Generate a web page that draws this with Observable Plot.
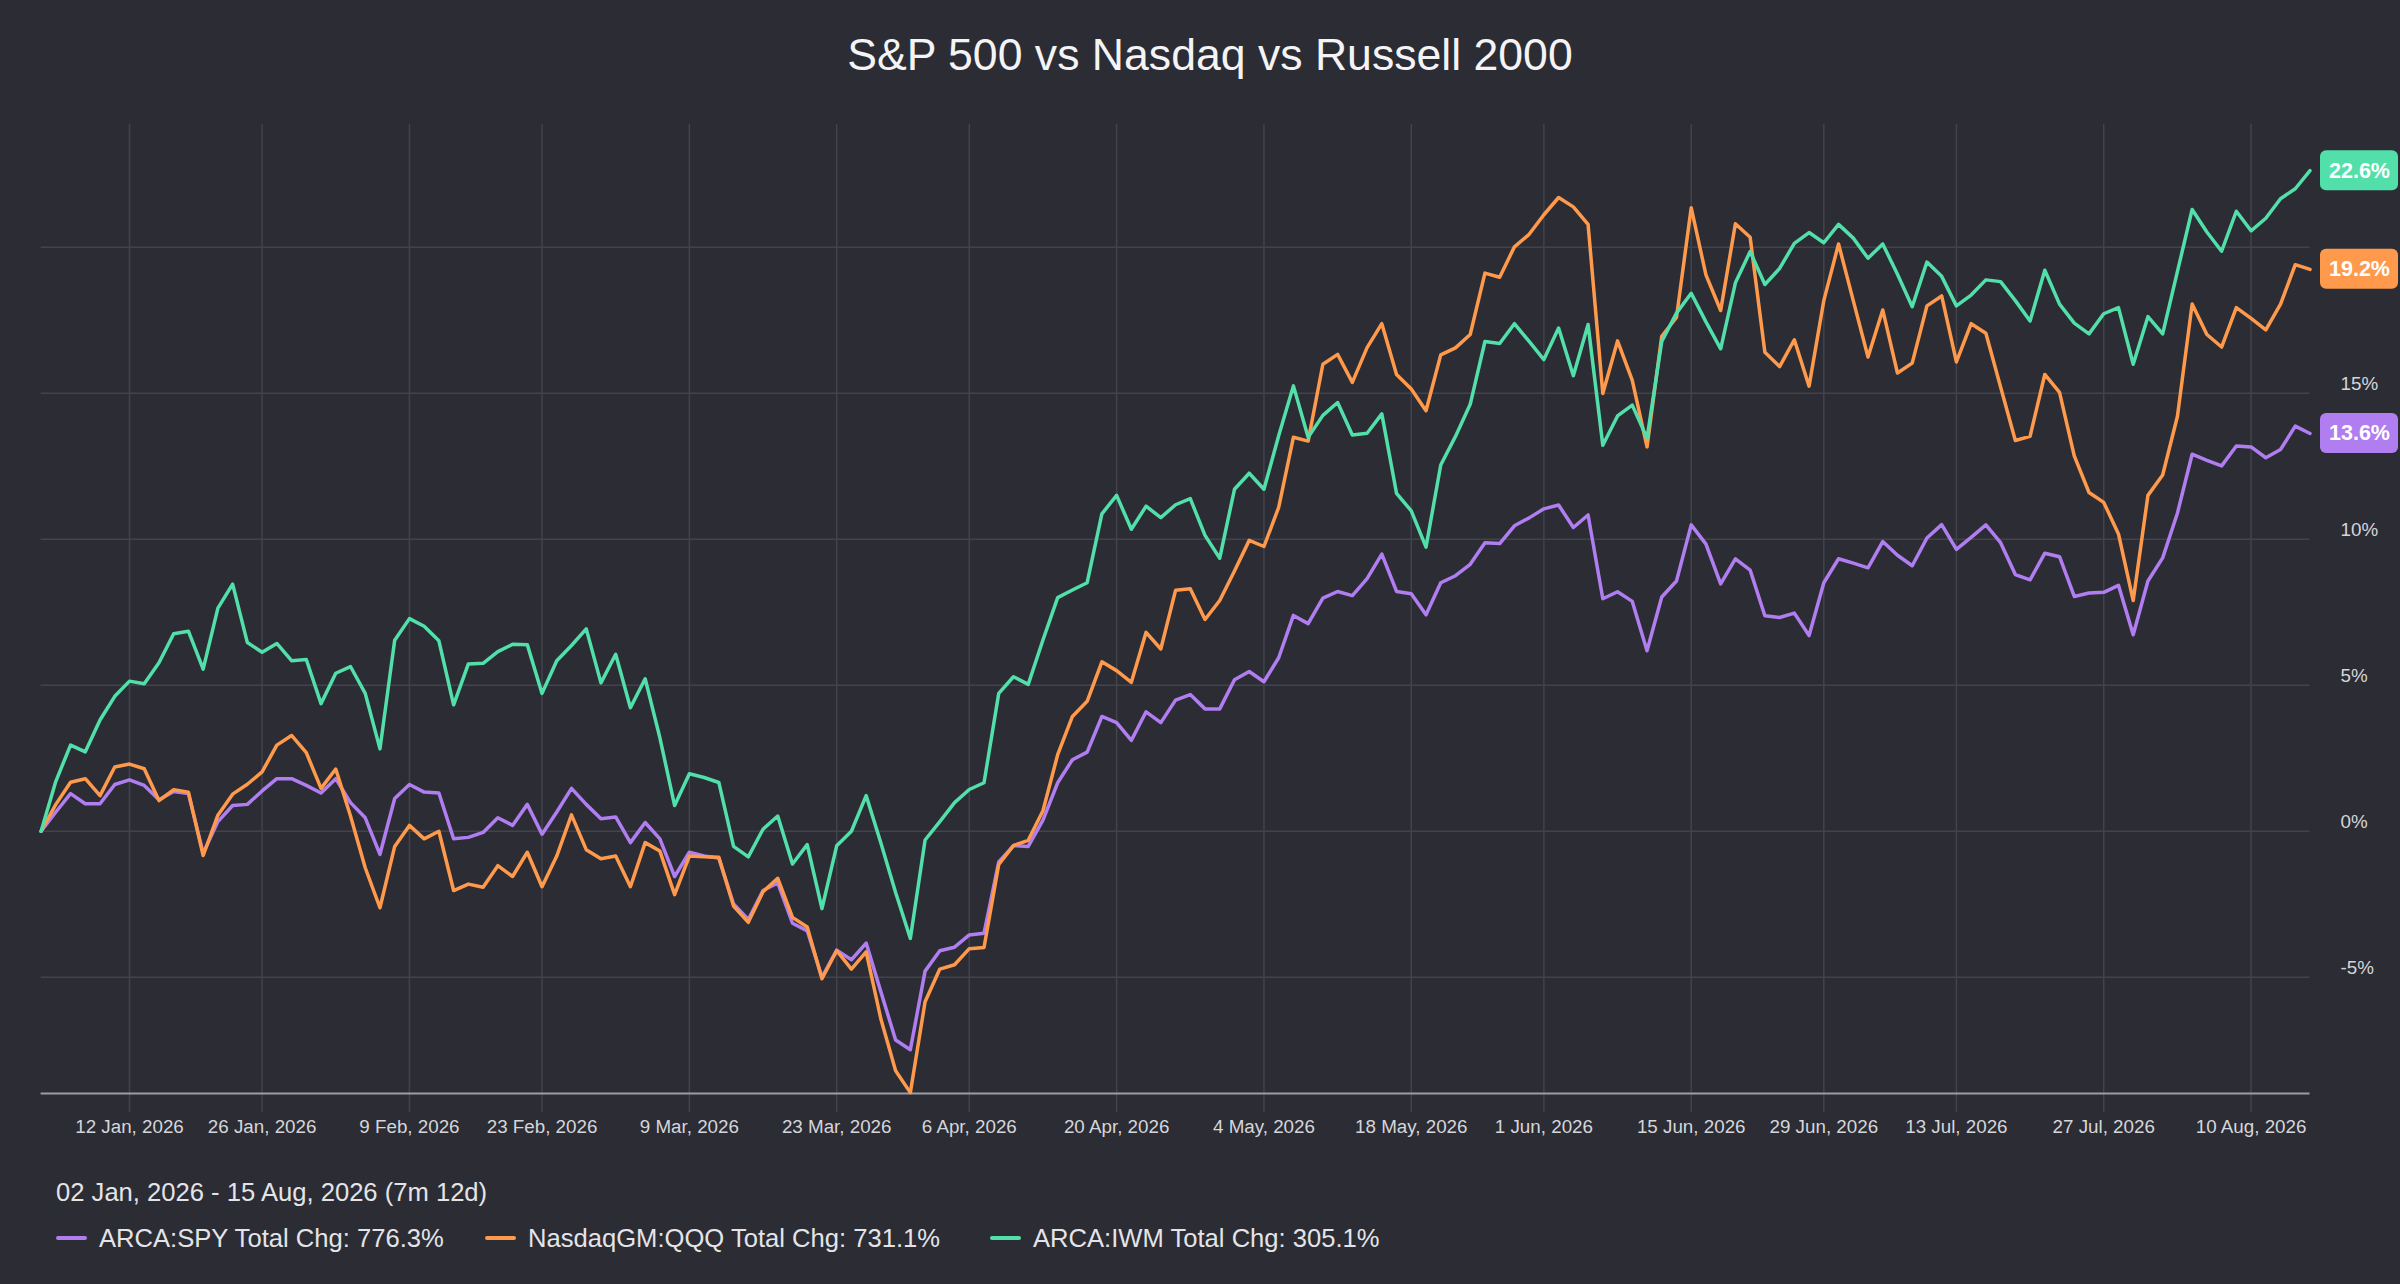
<!DOCTYPE html>
<html>
<head>
<meta charset="utf-8">
<script src="https://cdn.jsdelivr.net/npm/d3@7"></script>
<script src="https://cdn.jsdelivr.net/npm/@observablehq/plot@0.6"></script>
<style>
  html, body { margin: 0; padding: 0; background: #2b2c34; }
  body { width: 2400px; height: 1284px; position: relative; overflow: hidden;
         font-family: "Liberation Sans", Arial, Helvetica, sans-serif; }
  #title { position: absolute; top: 0; left: 20px; width: 2380px; height: 110px; line-height: 110px;
           text-align: center; color: #f4f4f6; font-size: 44.6px; white-space: nowrap; }
  #chart { position: absolute; top: 100px; left: 0; }
  #range { position: absolute; top: 1177px; left: 56px; line-height: 30px; font-size: 25.6px; color: #e4e4e8; white-space: nowrap; }
  .item { position: absolute; top: 1223px; height: 30px; line-height: 30px; font-size: 25.6px;
          color: #e4e4e8; display: flex; align-items: center; white-space: nowrap; }
  .sw { width: 31px; height: 4px; border-radius: 2px; margin-right: 12px; }
</style>
</head>
<body>
<div id="title"></div>
<div id="chart"></div>
<div id="range"></div>
<div id="legend"></div>
<script>
const titleText = "S&P 500 vs Nasdaq vs Russell 2000";
const rangeText = "02 Jan, 2026 - 15 Aug, 2026 (7m 12d)";
const seriesNames = ["ARCA:SPY", "NasdaqGM:QQQ", "ARCA:IWM"];
const totalChg = ["776.3%", "731.1%", "305.1%"];
const colors = ["#b07ef0", "#ff9a4c", "#52dfaa"];

// percent change per trading day, 02 Jan 2026 .. 14 Aug 2026
const spy = [0,0.66,1.29,0.94,0.94,1.60,1.76,1.57,1.08,1.36,1.29,-0.75,0.33,0.88,0.92,1.38,1.80,1.80,1.57,1.31,
  1.80,0.98,0.46,-0.79,1.12,1.60,1.34,1.31,-0.26,-0.21,-0.04,0.46,0.20,0.92,-0.10,0.66,1.47,0.92,0.43,0.49,
  -0.39,0.30,-0.26,-1.55,-0.72,-0.85,-0.92,-2.49,-3.02,-2.03,-1.77,-3.15,-3.41,-5.00,-4.07,-4.40,-3.83,-5.50,-7.15,-7.48,
  -4.79,-4.09,-3.97,-3.55,-3.49,-1.05,-0.49,-0.52,0.38,1.66,2.45,2.71,3.93,3.72,3.11,4.09,3.72,4.49,4.68,4.19,
  4.19,5.19,5.47,5.12,5.94,7.39,7.11,7.98,8.21,8.07,8.65,9.49,8.21,8.13,7.41,8.51,8.75,9.14,9.88,9.85,
  10.46,10.73,11.04,11.17,10.40,10.83,7.96,8.20,7.87,6.18,8.02,8.57,10.49,9.83,8.47,9.33,8.94,7.38,7.32,7.47,
  6.70,8.51,9.33,9.18,9.02,9.92,9.45,9.09,10.04,10.50,9.65,10.06,10.49,9.88,8.79,8.61,9.52,9.40,8.04,8.16,
  8.18,8.42,6.73,8.57,9.36,10.89,12.91,12.70,12.51,13.19,13.16,12.79,13.07,13.87,13.62];
const qqq = [0,0.92,1.68,1.80,1.22,2.20,2.30,2.14,1.05,1.42,1.34,-0.83,0.55,1.27,1.61,2.03,2.95,3.28,2.69,1.47,
  2.13,0.52,-1.25,-2.62,-0.52,0.20,-0.26,0.00,-2.03,-1.81,-1.92,-1.18,-1.55,-0.72,-1.90,-0.85,0.56,-0.63,-0.94,-0.85,
  -1.90,-0.39,-0.68,-2.17,-0.85,-0.87,-0.89,-2.56,-3.12,-2.07,-1.61,-2.95,-3.28,-5.05,-4.09,-4.72,-4.13,-6.43,-8.20,-8.95,
  -5.84,-4.72,-4.57,-4.02,-3.98,-1.14,-0.49,-0.31,0.70,2.62,3.93,4.45,5.80,5.50,5.10,6.81,6.24,8.25,8.30,7.25,
  7.90,8.91,9.96,9.75,11.09,13.49,13.36,15.99,16.33,15.37,16.56,17.38,15.64,15.14,14.40,16.31,16.55,17.01,19.11,18.97,
  20.01,20.44,21.11,21.70,21.38,20.78,14.99,16.79,15.44,13.16,16.95,17.59,21.35,19.05,17.83,20.80,20.34,16.40,15.91,16.83,
  15.24,18.17,20.11,18.17,16.24,17.85,15.69,16.03,17.99,18.33,16.07,17.38,17.05,15.21,13.38,13.52,15.64,15.03,12.85,11.60,
  11.26,10.18,7.90,11.50,12.20,14.20,18.05,17.01,16.58,17.93,17.56,17.17,18.05,19.40,19.24];
const iwm = [0,1.71,2.95,2.72,3.81,4.62,5.14,5.05,5.77,6.76,6.85,5.55,7.64,8.46,6.46,6.13,6.43,5.84,5.88,4.37,
  5.41,5.64,4.72,2.82,6.54,7.28,7.02,6.52,4.33,5.73,5.75,6.15,6.40,6.39,4.72,5.84,6.36,6.93,5.08,6.06,
  4.23,5.22,3.20,0.88,1.97,1.84,1.67,-0.52,-0.88,0.07,0.52,-1.12,-0.46,-2.65,-0.50,0.00,1.22,-0.40,-2.10,-3.67,
  -0.30,0.33,0.98,1.43,1.66,4.72,5.29,5.03,6.55,8.00,8.26,8.51,10.87,11.50,10.34,11.13,10.74,11.18,11.39,10.13,
  9.35,11.71,12.26,11.71,13.54,15.25,13.49,14.24,14.68,13.57,13.63,14.29,11.57,10.97,9.73,12.54,13.52,14.62,16.77,16.70,
  17.38,16.77,16.15,17.23,15.60,17.35,13.22,14.22,14.59,13.46,16.77,17.74,18.42,17.44,16.52,18.78,19.85,18.72,19.27,20.13,
  20.50,20.15,20.78,20.31,19.62,20.11,19.07,17.96,19.49,19.00,17.99,18.36,18.88,18.82,18.17,17.47,19.21,18.05,17.40,17.03,
  17.72,17.93,15.99,17.62,17.03,19.16,21.29,20.52,19.86,21.23,20.56,20.99,21.66,22.00,22.62];

// x ticks: trading-day index of each labelled Monday
const tickIdx = [6,15,25,34,44,54,63,73,83,93,102,112,121,130,140,150];
const tickLabels = ["12 Jan, 2026","26 Jan, 2026","9 Feb, 2026","23 Feb, 2026","9 Mar, 2026","23 Mar, 2026",
  "6 Apr, 2026","20 Apr, 2026","4 May, 2026","18 May, 2026","1 Jun, 2026","15 Jun, 2026","29 Jun, 2026",
  "13 Jul, 2026","27 Jul, 2026","10 Aug, 2026"];
const yGrid = [-5, 0, 5, 10, 15, 20];
const yLabels = [-5, 0, 5, 10, 15];
const yDomain = [-8.98, 24.2];

const allSeries = [spy, qqq, iwm];
const rows = [];
allSeries.forEach((vals, s) => vals.forEach((v, i) => rows.push({series: seriesNames[s], i, v})));
const lasts = allSeries.map((vals, s) => ({series: seriesNames[s], i: vals.length - 1, v: vals[vals.length - 1]}));

const gridColor = "#42434b";
const labelColor = "#d6d6da";

const chart = Plot.plot({
  width: 2400,
  height: 1050,
  marginLeft: 40.6,
  marginRight: 90.5,
  marginTop: 24,
  marginBottom: 57,
  style: {background: "transparent", color: labelColor, fontFamily: "'Liberation Sans', Arial, Helvetica, sans-serif", fontSize: "18.6px", overflow: "visible"},
  x: {domain: [0, spy.length - 1], label: null},
  y: {domain: yDomain, axis: null},
  color: {domain: seriesNames, range: colors},
  marks: [
    Plot.ruleY(yGrid, {stroke: gridColor, strokeWidth: 1.5}),
    Plot.ruleX(tickIdx, {stroke: gridColor, strokeWidth: 1.5}),
    Plot.axisX(tickIdx, {tickFormat: d => tickLabels[tickIdx.indexOf(d)], tickSize: 19, tickPadding: 7,
      stroke: gridColor, strokeWidth: 1.5, fill: labelColor, fontSize: 18.8, label: null}),
    Plot.ruleY([yDomain[0]], {stroke: "#9c9ca4", strokeWidth: 2}),
    Plot.text(yLabels, {y: d => d, text: d => d + "%", frameAnchor: "right", dx: 30.5, dy: -3,
      textAnchor: "start", lineAnchor: "bottom", fill: labelColor, fontSize: 18.8}),
    Plot.line(rows, {x: "i", y: "v", z: "series", stroke: "series", strokeWidth: 3.5, strokeLinejoin: "round"}),
    Plot.rect(lasts, {x1: "i", x2: "i", y1: "v", y2: "v", fill: "series",
      insetLeft: 10.5, insetRight: -88.5, insetTop: -20, insetBottom: -20, rx: 6}),
    Plot.text(lasts, {x: "i", y: "v", text: d => d.v.toFixed(1) + "%", dx: 49.5, fill: "#ffffff",
      fontWeight: "bold", fontSize: 21.5, textAnchor: "middle"})
  ]
});
document.getElementById("chart").appendChild(chart);
document.getElementById("title").textContent = titleText;
document.getElementById("range").textContent = rangeText;
const legend = document.getElementById("legend");
const legendLeft = [56, 485, 990];
seriesNames.forEach((name, s) => {
  const item = document.createElement("div");
  item.className = "item";
  item.style.left = legendLeft[s] + "px";
  const sw = document.createElement("span");
  sw.className = "sw";
  sw.style.background = colors[s];
  const tx = document.createElement("span");
  tx.textContent = name + " Total Chg: " + totalChg[s];
  item.appendChild(sw);
  item.appendChild(tx);
  legend.appendChild(item);
});
</script>
</body>
</html>
